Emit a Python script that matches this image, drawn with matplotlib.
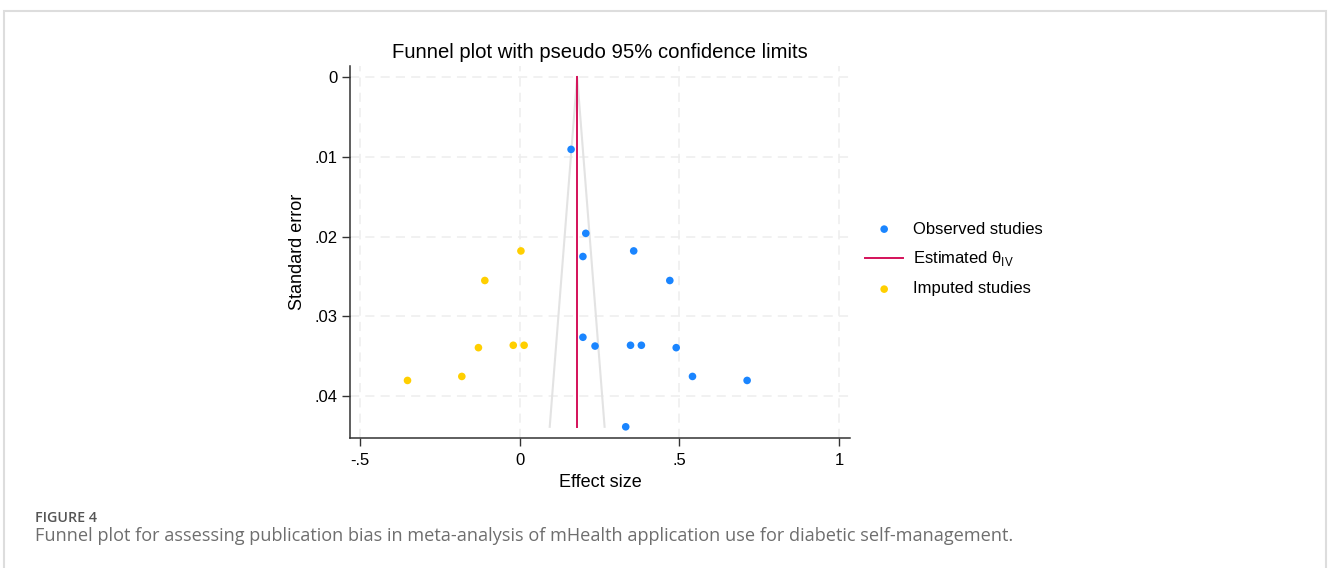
# Funnel plot with pseudo 95% confidence limits (trim-and-fill result)
import matplotlib
matplotlib.use("Agg")
import matplotlib.pyplot as plt
import numpy as np

plt.rcParams['font.family'] = ['Liberation Sans', 'DejaVu Sans']
plt.rcParams['mathtext.fontset'] = 'custom'
plt.rcParams['mathtext.rm'] = 'Liberation Sans'

# observed studies (effect size, standard error)
obs_es = [0.161, 0.207, 0.198, 0.357, 0.470, 0.198, 0.236, 0.347, 0.381, 0.490, 0.541, 0.712, 0.332]
obs_se = [0.0091, 0.0196, 0.0225, 0.0218, 0.0255, 0.0326, 0.0337, 0.0336, 0.0336, 0.0339, 0.0375, 0.0380, 0.0438]

# imputed studies
imp_es = [0.004, -0.109, -0.129, -0.020, 0.014, -0.181, -0.351]
imp_se = [0.0218, 0.0255, 0.0339, 0.0336, 0.0336, 0.0375, 0.0380]

theta = 0.18  # estimated theta (IV)

x_ticks = [-0.5, 0, 0.5, 1]
x_labels = ['-.5', '0', '.5', '1']
y_ticks = [0, 0.01, 0.02, 0.03, 0.04]
y_labels = ['0', '.01', '.02', '.03', '.04']

blue = '#1a85ff'
red = '#d41159'
yellow = '#ffcf00'

fig = plt.figure(figsize=(13.28, 5.68), dpi=100)
ax = fig.add_axes([350/1328, 1-438/568, 500/1328, 372/568])

# pseudo 95% limits
se_max = max(obs_se + imp_se)
ax.plot([theta - 1.96*se_max, theta, theta + 1.96*se_max], [se_max, 0, se_max],
        color='#e3e3e3', lw=1.5, zorder=1)

ax.scatter(obs_es, obs_se, s=30, color=blue, edgecolors='none', zorder=3, label='Observed studies')
ax.plot([theta, theta], [0, se_max], color=red, lw=1.4, zorder=2, label='Estimated θ$_{\\mathrm{IV}}$')
ax.scatter(imp_es, imp_se, s=30, color=yellow, edgecolors='none', zorder=3, label='Imputed studies')

ax.set_xlim(-0.531, 1.034)
ax.set_ylim(0.0452, -0.00133)
ax.set_xticks(x_ticks)
ax.set_xticklabels(x_labels)
ax.set_yticks(y_ticks)
ax.set_yticklabels(y_labels)
ax.tick_params(labelsize=12, length=6, width=1, color='#333333')
ax.tick_params(axis='x', pad=5)
ax.tick_params(axis='y', pad=3)

ax.grid(True, color='#eeeeee', lw=1.1, linestyle=(0, (6, 4)))
ax.set_axisbelow(True)
for s in ['top', 'right']:
    ax.spines[s].set_visible(False)
for s in ['left', 'bottom']:
    ax.spines[s].set_color('#333333')
    ax.spines[s].set_linewidth(1.1)

ax.set_title('Funnel plot with pseudo 95% confidence limits', fontsize=14.6, pad=6)
ax.set_xlabel('Effect size', fontsize=13, labelpad=4)
ax.set_ylabel('Standard error', fontsize=13, labelpad=6)

ax.legend(loc='center left', bbox_to_anchor=(865/1328, 1-259/568), bbox_transform=fig.transFigure,
          frameon=False, fontsize=12, handlelength=2.3, handletextpad=0.6, labelspacing=0.78,
          borderpad=0, borderaxespad=0)

# page frame and caption
fig.patches.append(plt.Rectangle((4/1328, -0.1), 1322/1328, 1.1 - 11/568, transform=fig.transFigure,
                                 fill=False, edgecolor='#dddddd', lw=1.5))
fig.text(35/1328, 1-522/568, 'FIGURE 4', family='Open Sans', weight='semibold', fontsize=10.3,
         color='#555555', va='baseline')
fig.text(35/1328, 1-541/568,
         'Funnel plot for assessing publication bias in meta-analysis of mHealth application use for diabetic self-management.',
         family='Open Sans', fontsize=13.05, color='#6e6e6e', va='baseline')

fig.savefig('out.png', dpi=100)
